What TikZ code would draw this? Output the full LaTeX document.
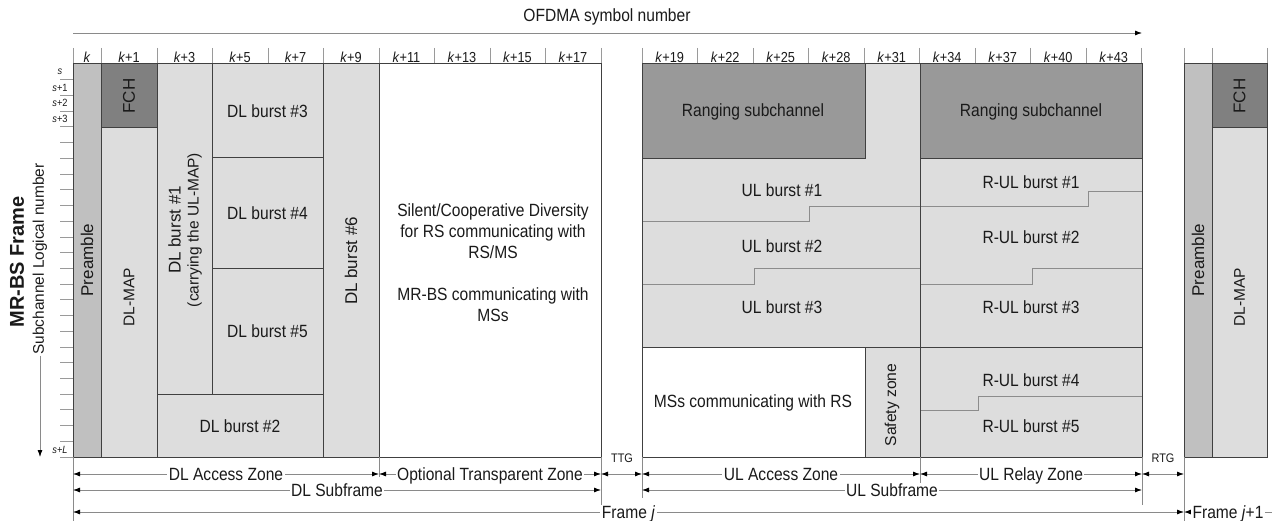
\documentclass[tikz,border=0pt]{standalone}
\usepackage{fontspec}
\setmainfont{Liberation Sans}[FakeStretch=0.88]
\newfontfamily\vfont{Liberation Sans}
\usetikzlibrary{arrows.meta}

\definecolor{lineC}{HTML}{404040}
\definecolor{preC}{HTML}{C0C0C0}
\definecolor{fchC}{HTML}{808080}
\definecolor{lightC}{HTML}{DDDDDD}
\definecolor{rangC}{HTML}{999999}
\definecolor{dimC}{HTML}{8A8A8A}
\definecolor{tickC}{HTML}{9A9A9A}
\definecolor{stairC}{HTML}{8C8C8C}
\definecolor{txtC}{HTML}{1A1A1A}

\begin{document}
\begin{tikzpicture}[x=1pt,y=-1pt,
  >={Latex[length=7pt,width=5pt,color=black]},
  cell/.style={draw=lineC, line width=1pt},
  txt/.style={font=\fontsize{17.7}{21}\selectfont, text=txtC, inner sep=1pt, align=center},
  vtxt/.style={font=\vfont\fontsize{17}{19}\selectfont, rotate=90, text=txtC, inner sep=1pt, align=center},
  hdr/.style={font=\fontsize{14.5}{16}\selectfont, text=txtC, inner sep=0pt},
  rowlbl/.style={font=\fontsize{10.5}{12}\selectfont, text=txtC, inner sep=0pt},
  gaplbl/.style={font=\fontsize{12.4}{14}\selectfont, text=txtC, inner sep=0pt},
  tick/.style={draw=tickC, line width=0.8pt},
  ext/.style={draw=dimC, line width=0.8pt},
  stair/.style={draw=stairC, line width=0.8pt},
  dim/.style={draw=dimC, line width=0.8pt, <->},
  dimlbl/.style={font=\fontsize{17.7}{21}\selectfont, text=txtC, fill=white,
    inner xsep=1.5pt, inner ysep=1pt, text height=13pt, text depth=0pt},
]
\useasboundingbox (0,0) rectangle (1278,521);

% ---- symbol axis on top ----
\coordinate (xstart) at (73,33);
\coordinate (xend) at (1142,33);
\draw[ext, ->] (xstart) -- (xend);
\node[txt] (xtitle) at (607,17) {OFDMA symbol number};

% header ticks and symbol indices
\foreach \x in {73,101,157,212,268,323,379,434.5,490,545.5,601,
                642,697.5,753,808.5,864,919.5,975,1030.5,1086,1141.5,
                1184,1212,1267}
  \draw[tick] (\x,48) -- (\x,64);
\node[hdr] (h0) at (87,57) {\textit{k}};
\foreach \x/\n in {129/1,184.5/3,240/5,295.5/7,351/9,406.5/11,462/13,517.5/15,573/17,
                   669.75/19,725.25/22,780.75/25,836.25/28,891.75/31,947.25/34,
                   1002.75/37,1058.25/40,1113.75/43}
  \node[hdr] (h\n) at (\x,57) {\textit{k}+\n};

% ---- subchannel axis on the left ----
\foreach \i in {1,...,25}
  \draw[tick] (60,{64+\i*15.72}) -- (73,{64+\i*15.72});
\node[rowlbl] (s0) at (60,72) {\textit{s}};
\node[rowlbl] (s1) at (60,87.6) {\textit{s}+1};
\node[rowlbl] (s2) at (60,103.3) {\textit{s}+2};
\node[rowlbl] (s3) at (60,119) {\textit{s}+3};
\node[rowlbl] (sL) at (60,450) {\textit{s}+\textit{L}};

\node[rotate=90, font=\vfont\fontsize{15.4}{18}\selectfont, text=txtC, inner sep=1pt]
  (subch) at (40,259) {Subchannel Logical number};
\coordinate (yend) at (40,457);
\draw[ext, ->] (subch.west) -- (yend);
\node[rotate=90, font=\vfont\bfseries\fontsize{20}{24}\selectfont, text=txtC]
  (title) at (17,262) {MR-BS Frame};

% ---- downlink subframe ----
\draw[cell, fill=preC]   (73,64)  rectangle (101,457);
\draw[cell, fill=fchC]   (101,64) rectangle (157,128);
\draw[cell, fill=lightC] (101,128) rectangle (157,457);
\draw[cell, fill=lightC] (157,64) rectangle (212,395);
\draw[cell, fill=lightC] (212,64) rectangle (323,158);
\draw[cell, fill=lightC] (212,158) rectangle (323,269);
\draw[cell, fill=lightC] (212,269) rectangle (323,395);
\draw[cell, fill=lightC] (157,395) rectangle (323,457);
\draw[cell, fill=lightC] (323,64) rectangle (379,457);
\draw[cell] (379,64) rectangle (601,457);

\node[vtxt] (pre) at (87,260) {Preamble};
\node[vtxt] (fch) at (129,96) {FCH};
\node[vtxt, font=\vfont\fontsize{15.5}{18}\selectfont] (dlmap) at (129,297) {DL-MAP};
\node[vtxt] (dlb1) at (185,230)
  {DL burst \#1\\[-1pt]\fontsize{15.5}{18}\selectfont(carrying the UL-MAP)};
\node[txt] (dlb3) at (267.5,111) {DL burst \#3};
\node[txt] (dlb4) at (267.5,213) {DL burst \#4};
\node[txt] (dlb5) at (267.5,331) {DL burst \#5};
\node[txt] (dlb2) at (240,426) {DL burst \#2};
\node[vtxt] (dlb6) at (351,261) {DL burst \#6};
\node[txt] (silent) at (493,263)
  {Silent/Cooperative Diversity\\for RS communicating with\\RS/MS\\[21pt]MR-BS communicating with\\MSs};

% ---- uplink subframe ----
\fill[lightC] (642,64) rectangle (1142,457);
\fill[white] (642,348) rectangle (865,457);
\draw[cell, fill=rangC] (642,64) rectangle (865,159);
\draw[cell, fill=rangC] (920,64) rectangle (1142,159);
\draw[stair] (642,221) -- (809,221) -- (809,206) -- (1088,206) -- (1088,191) -- (1142,191);
\draw[stair] (642,284) -- (754,284) -- (754,268) -- (920,268);
\draw[stair] (920,284) -- (1032,284) -- (1032,268) -- (1142,268);
\draw[stair] (920,410) -- (978,410) -- (978,396) -- (1142,396);
\draw[cell] (642,348) -- (1142,348);
\draw[cell] (865,348) -- (865,457);
\draw[cell] (920,64) -- (920,457);
\draw[cell] (642,64) rectangle (1142,457);

\node[txt] (rng1) at (753,112) {Ranging subchannel};
\node[txt] (rng2) at (1031,112) {Ranging subchannel};
\node[txt] (ulb1) at (782,190) {UL burst \#1};
\node[txt] (ulb2) at (782,246) {UL burst \#2};
\node[txt] (ulb3) at (782,307) {UL burst \#3};
\node[txt] (rulb1) at (1031,182) {R-UL burst \#1};
\node[txt] (rulb2) at (1031,237) {R-UL burst \#2};
\node[txt] (rulb3) at (1031,307) {R-UL burst \#3};
\node[txt] (rulb4) at (1031,380) {R-UL burst \#4};
\node[txt] (rulb5) at (1031,426) {R-UL burst \#5};
\node[txt] (msrs) at (753,403) {MSs communicating with RS};
\node[vtxt, font=\vfont\fontsize{15.7}{18}\selectfont] (safe) at (892,405) {Safety zone};

% ---- start of the next frame ----
\draw[cell, fill=preC]   (1184,64) rectangle (1212,457);
\draw[cell, fill=fchC]   (1212,64) rectangle (1267,128);
\draw[cell, fill=lightC] (1212,128) rectangle (1267,457);
\node[vtxt] (npre) at (1198,260) {Preamble};
\node[vtxt] (nfch) at (1239.5,96) {FCH};
\node[vtxt, font=\vfont\fontsize{15.5}{18}\selectfont] (ndlmap) at (1239.5,297) {DL-MAP};

% ---- gaps ----
\node[gaplbl] (ttg) at (622,458) {TTG};
\node[gaplbl] (rtg) at (1163,458) {RTG};

% ---- extension lines ----
\draw[ext] (73,457) -- (73,521);
\draw[ext] (379,457) -- (379,477);
\draw[ext] (601,457) -- (601,505);
\draw[ext] (642,457) -- (642,498);
\draw[ext] (920,457) -- (920,494);
\draw[ext] (1142,457) -- (1142,505);
\draw[ext] (1184,457) -- (1184,521);

% ---- dimension lines ----
\coordinate (a1) at (73,474);
\coordinate (a2) at (379,474);
\coordinate (a3) at (601,474);
\coordinate (a4) at (642,474);
\coordinate (a5) at (920,474);
\coordinate (a6) at (1142,474);
\coordinate (a7) at (1184,474);
\coordinate (b1) at (73,490);
\coordinate (b2) at (601,490);
\coordinate (b3) at (642,490);
\coordinate (b4) at (1142,490);
\coordinate (c1) at (73,512);
\coordinate (c2) at (1184,512);
\coordinate (c3) at (1272,512);

\draw[dim] (a1) -- node[dimlbl] (zdla) {DL Access Zone} (a2);
\draw[dim] (a2) -- node[dimlbl] (zopt) {Optional Transparent Zone} (a3);
\draw[dim] (a3) -- (a4);
\draw[dim] (a4) -- node[dimlbl] (zula) {UL Access Zone} (a5);
\draw[dim] (a5) -- node[dimlbl] (zulr) {UL Relay Zone} (a6);
\draw[dim] (a6) -- (a7);
\draw[dim] (b1) -- node[dimlbl] (zdls) {DL Subframe} (b2);
\draw[dim] (b3) -- node[dimlbl] (zuls) {UL Subframe} (b4);
\draw[dim] (c1) -- node[dimlbl] (zfj) {Frame \textit{j}} (c2);
\draw[ext, <-] (c2) -- node[dimlbl] (zfj1) {Frame \textit{j}+1} (c3);
\end{tikzpicture}
\end{document}
